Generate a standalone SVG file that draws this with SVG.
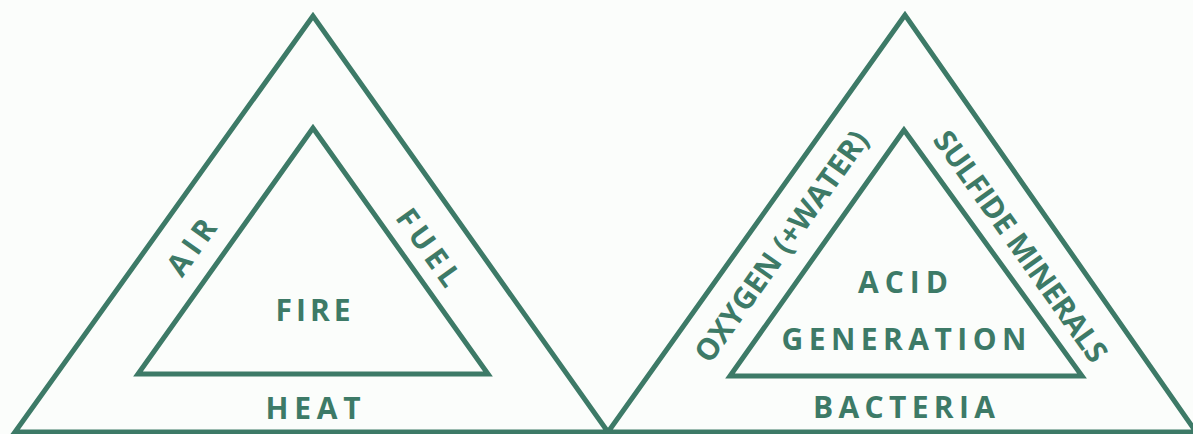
<svg xmlns="http://www.w3.org/2000/svg" width="1193" height="434" viewBox="0 0 1193 434">
<style>
.tri{fill:none;stroke:#3d7a67;stroke-width:5;stroke-linejoin:miter}
.lbl{font-family:"Open Sans","Liberation Sans",sans-serif;font-weight:700;fill:#3d7a67;text-anchor:middle;font-size:30px}
</style>
<rect width="1193" height="434" fill="#fbfdfb"/>
<g id="fire-outer"><polygon class="tri" points="313,16 15,432 608,432"/></g>
<g id="fire-inner"><polygon class="tri" points="313,128 138,374 488,374"/></g>
<g id="acid-outer"><polygon class="tri" points="905,15 608,432 1196,432"/></g>
<g id="acid-inner"><polygon class="tri" points="904,130 730,376 1082,376"/></g>
<g id="labels-fire">
<text class="lbl" x="313" y="321" textLength="75" lengthAdjust="spacing">FIRE</text>
<text class="lbl" x="313" y="419" textLength="95" lengthAdjust="spacing">HEAT</text>
<text class="lbl" transform="translate(191,247) rotate(-54.4)" x="0" y="11" textLength="62" lengthAdjust="spacing">AIR</text>
<text class="lbl" transform="translate(429,247) rotate(54.4)" x="0" y="11" textLength="88" lengthAdjust="spacing">FUEL</text>
</g>
<g id="labels-acid">
<text class="lbl" x="903" y="293" textLength="90" lengthAdjust="spacing">ACID</text>
<text class="lbl" x="904" y="350" textLength="245" lengthAdjust="spacing">GENERATION</text>
<text class="lbl" x="904" y="418" textLength="182" lengthAdjust="spacing">BACTERIA</text>
<text class="lbl" transform="translate(781,246) rotate(-54.6)" x="0" y="11" textLength="276" lengthAdjust="spacing">OXYGEN (+WATER)</text>
<text class="lbl" transform="translate(1021,246) rotate(54.6)" x="0" y="11" textLength="276" lengthAdjust="spacing">SULFIDE MINERALS</text>
</g>
</svg>
